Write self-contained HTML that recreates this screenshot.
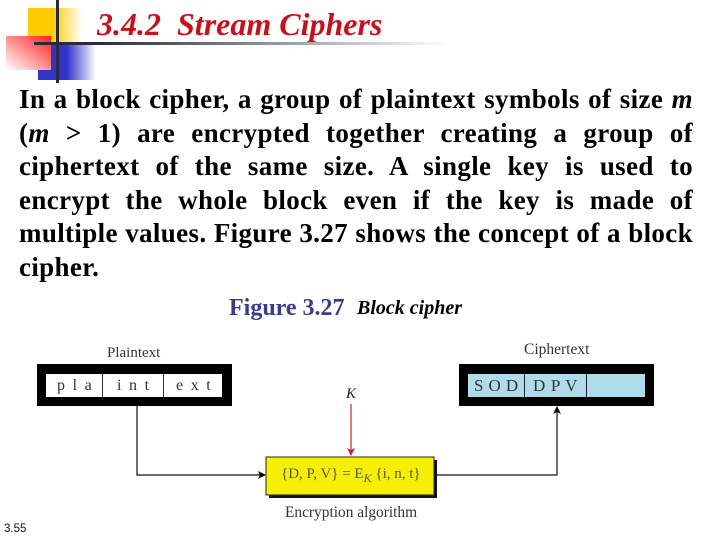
<!DOCTYPE html>
<html><head><meta charset="utf-8"><style>
html,body{margin:0;padding:0;background:#fff}
#p{position:relative;width:720px;height:540px;overflow:hidden;background:#fff;font-family:"Liberation Serif",serif}
.a{position:absolute;white-space:nowrap}
.l{position:absolute;left:19px;width:674px;font-size:27px;letter-spacing:.35px;word-spacing:-2px;font-weight:bold;line-height:33.6px;height:33.6px;color:#000;white-space:nowrap}
.j{text-align:justify;text-align-last:justify;white-space:normal}
svg{position:absolute;left:0;top:0}
</style></head><body><div id="p">
<svg width="720" height="540" viewBox="0 0 720 540">
<defs>
<linearGradient id="y" x1="0" x2="1" y1="0" y2="0"><stop offset="0" stop-color="#ffcc00"/><stop offset=".45" stop-color="#ffcc00"/><stop offset="1" stop-color="#fff"/></linearGradient>
<linearGradient id="b" x1="0" x2="1" y1="0" y2="0"><stop offset="0" stop-color="#3333cc"/><stop offset=".5" stop-color="#3333cc"/><stop offset="1" stop-color="#fff"/></linearGradient>
<linearGradient id="r" x1="1" x2="0" y1="0" y2="1"><stop offset="0" stop-color="#ff2020"/><stop offset="1" stop-color="#fff"/></linearGradient>
<linearGradient id="g" x1="0" x2="1" y1="0" y2="0"><stop offset="0" stop-color="#2a2a3a"/><stop offset=".15" stop-color="#2a2a3a"/><stop offset="1" stop-color="#fff"/></linearGradient>
</defs>
<rect x="28" y="8" width="54" height="52" fill="url(#y)"/>
<rect x="38" y="42" width="58" height="38" fill="url(#b)"/>
<rect x="6" y="36" width="45" height="34" fill="url(#r)"/>
<rect x="56" y="0" width="3" height="83" fill="#2a2a3a"/>
<rect x="34" y="42" width="416" height="3" fill="url(#g)"/>

<rect x="37" y="364" width="195" height="42" fill="#000"/>
<rect x="46" y="374" width="176" height="23" fill="#fff"/>
<rect x="102" y="374" width="1" height="23" fill="#333"/>
<rect x="163" y="374" width="1" height="23" fill="#333"/>

<rect x="459" y="364" width="195" height="42" fill="#000"/>
<rect x="468" y="374" width="177" height="23" fill="#aedcea"/>
<rect x="524" y="374" width="1" height="23" fill="#222"/>
<rect x="586" y="374" width="1" height="23" fill="#222"/>

<polyline points="137,406 137,475 260,475" fill="none" stroke="#111" stroke-width="1.2"/>
<polygon points="266,475 258,471 260,475 258,479" fill="#000"/>
<polyline points="436,475 557,475 557,412" fill="none" stroke="#111" stroke-width="1.2"/>
<polygon points="557,406 553,414 557,412 561,414" fill="#000"/>

<line x1="351" y1="404" x2="351" y2="452" stroke="#c8202c" stroke-width="1.2"/>
<polygon points="351,456 347,448 351,450 355,448" fill="#c8202c"/>

<rect x="269" y="460" width="168" height="38" fill="#111"/>
<rect x="266" y="457" width="168" height="38" fill="#f6f000" stroke="#222" stroke-width="1"/>
</svg>

<div class="a" style="left:97px;top:6px;font-size:32px;font-weight:bold;font-style:italic;color:#c8101a">3.4.2&nbsp; Stream Ciphers</div>

<div class="l j" style="top:83px">In a block cipher, a group of plaintext symbols of size <i>m</i></div>
<div class="l j" style="top:116.6px">(<i>m</i> &gt; 1) are encrypted together creating a group of</div>
<div class="l j" style="top:150.2px">ciphertext of the same size. A single key is used to</div>
<div class="l j" style="top:183.8px">encrypt the whole block even if the key is made of</div>
<div class="l j" style="top:217.4px">multiple values. Figure 3.27 shows the concept of a block</div>
<div class="l" style="top:251px">cipher.</div>

<div class="a" style="left:229px;top:295px;font-size:24px;font-weight:bold;color:#3a3a90">Figure 3.27</div>
<div class="a" style="left:357px;top:297px;font-size:20px;font-weight:bold;font-style:italic;color:#000">Block cipher</div>

<div class="a" style="left:107px;top:345px;font-size:15px;color:#333">Plaintext</div>
<div class="a" style="left:524px;top:341px;font-size:15.5px;color:#333">Ciphertext</div>

<div class="a" style="left:57px;top:377px;font-size:16px;color:#333;letter-spacing:1.8px">p l a</div>
<div class="a" style="left:117px;top:377px;font-size:16px;color:#333;letter-spacing:1.8px">i n t</div>
<div class="a" style="left:176px;top:377px;font-size:16px;color:#333;letter-spacing:1.8px">e x t</div>

<div class="a" style="left:474px;top:376px;font-size:17px;color:#333;letter-spacing:.4px">S O D</div>
<div class="a" style="left:533px;top:376px;font-size:17px;color:#333;letter-spacing:.7px">D P V</div>

<div class="a" style="left:346px;top:386px;font-size:15px;font-style:italic;color:#222">K</div>
<div class="a" style="left:281px;top:466px;font-size:15px;color:#555">{D, P, V} = E<sub style="font-size:12px;font-style:italic;line-height:0">K</sub> {i, n, t}</div>
<div class="a" style="left:285px;top:504px;font-size:15.4px;color:#333">Encryption algorithm</div>

<div class="a" style="left:4px;top:523px;font-family:'Liberation Sans',sans-serif;font-size:11.5px;color:#111">3.55</div>
</div></body></html>
